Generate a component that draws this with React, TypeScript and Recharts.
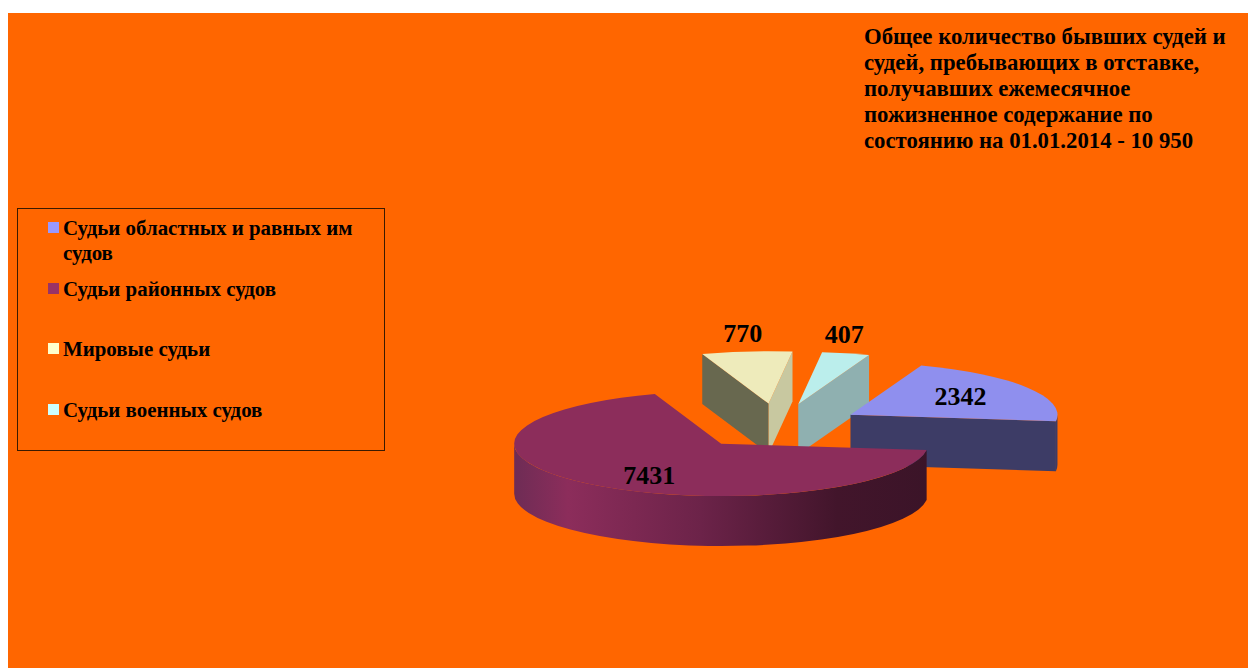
import React from 'react'
import { PieChart, Pie, Legend } from 'recharts'

const categories = ['Судьи областных и равных им судов', 'Судьи районных судов', 'Мировые судьи', 'Судьи военных судов']
const counts = [2342, 7431, 770, 407]
const legendColors = ['#9999ff', '#993366', '#ffffcc', '#ccffff']
const titleLines = [
  'Общее количество бывших судей и',
  'судей, пребывающих в отставке,',
  'получавших ежемесячное',
  'пожизненное содержание по',
  'состоянию на 01.01.2014 - 10 950',
]

// face colours of the extruded slices
const topColors = ['#8f8fee', '#8c2d5b', '#eeebbb', '#bbeeec']
const startFaceColors = ['#3d3c66', '#3d3c66', '#68684f', '#8fb0b0']
const endFaceColors = ['#3d3c66', '#3d3c66', '#c8c8a0', '#8fb0b0']
const wallStops = [
  [[0, '#3d3c66'], [1, '#3d3c66']],
  [[0, '#6e2c55'], [0.13, '#8c2d5b'], [0.45, '#6c2349'], [0.78, '#42152b'], [1, '#3b1428']],
  [[0, '#68684f'], [1, '#68684f']],
  [[0, '#8fb0b0'], [1, '#8fb0b0']],
]

const explode = [85, 90, 89, 88]
const labelNudge = [[110, -10], [-72, 40], [-26, -62], [46, -61]]

// the big slice has to be painted last, so the pie starts at the small slices
const drawOrder = [2, 3, 0, 1]

const SQUASH = 0.253
const DEPTH = 50
const RAD = Math.PI / 180

const chartData = drawOrder.map((i) => ({ name: categories[i], value: counts[i], fill: legendColors[i] }))

// exploded apex of a slice on the tilted plane
const apexOf = (cx: number, cy: number, midAngle: number, dist: number) => ({
  x: cx + dist * Math.cos(midAngle * RAD),
  y: cy - dist * SQUASH * Math.sin(midAngle * RAD),
})

const Slice3D = (props: any) => {
  const { cx, cy, outerRadius: r, startAngle, endAngle, midAngle, name } = props
  const i = categories.indexOf(name)
  const apex = apexOf(cx, cy, midAngle, explode[i])
  const ry = r * SQUASH
  const at = (t: number, dy = 0) => ({
    x: apex.x + r * Math.cos(t * RAD),
    y: apex.y - ry * Math.sin(t * RAD) + dy,
  })
  const a = at(startAngle)
  const b = at(endAngle)
  const large = startAngle - endAngle > 180 ? 1 : 0

  const top = `M${apex.x},${apex.y} L${a.x},${a.y} A${r},${ry} 0 ${large} 1 ${b.x},${b.y} Z`
  const radial = (p: { x: number; y: number }) =>
    `M${apex.x},${apex.y} L${p.x},${p.y} L${p.x},${p.y + DEPTH} L${apex.x},${apex.y + DEPTH} Z`

  // outer wall only shows on the front half of the ellipse
  const wallFrom = Math.min(startAngle, 0)
  const wallTo = Math.max(endAngle, -180)
  let wall = ''
  if (wallFrom > wallTo) {
    const s = at(wallFrom)
    const e = at(wallTo)
    const big = wallFrom - wallTo > 180 ? 1 : 0
    wall = `M${s.x},${s.y} A${r},${ry} 0 ${big} 1 ${e.x},${e.y} L${e.x},${e.y + DEPTH} A${r},${ry} 0 ${big} 0 ${s.x},${s.y + DEPTH} Z`
  }

  return (
    <g>
      <defs>
        <linearGradient id={`wall-${i}`} gradientUnits="userSpaceOnUse" x1={apex.x - r} x2={apex.x + r} y1={0} y2={0}>
          {wallStops[i].map(([o, c]) => (
            <stop key={o} offset={o} stopColor={c as string} />
          ))}
        </linearGradient>
      </defs>
      {Math.cos(startAngle * RAD) < 0 && <path d={radial(a)} fill={startFaceColors[i]} />}
      {Math.cos(endAngle * RAD) > 0 && <path d={radial(b)} fill={endFaceColors[i]} />}
      {wall && <path d={wall} fill={`url(#wall-${i})`} />}
      <path d={top} fill={topColors[i]} />
    </g>
  )
}

const renderLabel = (props: any) => {
  const i = categories.indexOf(props.name)
  const apex = apexOf(props.cx, props.cy, props.midAngle, explode[i])
  return (
    <text
      x={apex.x + labelNudge[i][0]}
      y={apex.y + labelNudge[i][1]}
      textAnchor="middle"
      fontFamily="'Liberation Serif', serif"
      fontWeight="bold"
      fontSize={26}
      fill="#000"
    >
      {props.value}
    </text>
  )
}

const LegendBox = ({ payload }: any) => (
  <div style={{ width: 366, height: 234, border: '1px solid #3a1a00', paddingTop: 7, boxSizing: 'content-box' }}>
    {(payload || []).map((entry: any) => (
      <div key={entry.value} style={{ position: 'relative', height: 60.5, paddingLeft: 45, width: 310 }}>
        <span style={{ position: 'absolute', left: 30, top: 6, width: 11, height: 11, background: entry.color }} />
        <span style={{ fontFamily: "'Liberation Serif', serif", fontWeight: 'bold', fontSize: 20.9, lineHeight: '24.5px', color: '#000', display: 'block' }}>
          {entry.value}
        </span>
      </div>
    ))}
  </div>
)

export default function App() {
  return (
    <div style={{ position: 'absolute', left: 8, top: 13, width: 1240, height: 655, background: '#ff6600', overflow: 'hidden' }}>
      <PieChart width={1240} height={655}>
        <Legend
          content={<LegendBox />}
          itemSorter={(entry: any) => categories.indexOf(entry.value)}
          wrapperStyle={{ position: 'absolute', left: 9, top: 195, width: 368, bottom: 'auto' }}
        />
        <Pie
          data={chartData}
          dataKey="value"
          nameKey="name"
          cx={765}
          cy={408}
          outerRadius={207}
          startAngle={108.7}
          endAngle={-251.3}
          stroke="none"
          shape={Slice3D}
          label={renderLabel}
          labelLine={false}
          legendType="square"
          isAnimationActive={false}
        />
      </PieChart>
      <div style={{ position: 'absolute', left: 856, top: 11, fontFamily: "'Liberation Serif', serif", fontWeight: 'bold', fontSize: 22.75, lineHeight: '26px', color: '#000', whiteSpace: 'nowrap' }}>
        {titleLines.map((line) => (
          <div key={line}>{line}</div>
        ))}
      </div>
    </div>
  )
}
